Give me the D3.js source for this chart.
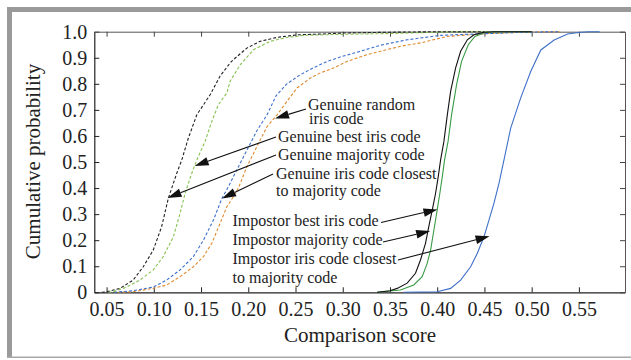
<!DOCTYPE html>
<html>
<head>
<meta charset="utf-8">
<script src="https://cdn.jsdelivr.net/npm/d3@7/dist/d3.min.js"></script>
<style>
  html, body { margin: 0; padding: 0; background: #fff; }
  svg { display: block; }
  svg text { font-family: "Liberation Serif", "DejaVu Serif", "Times New Roman", serif; }
</style>
</head>
<body>
<svg id="chart" width="631" height="360"></svg>
<script>
// Tick values
const scoreTicks = [0.05, 0.10, 0.15, 0.20, 0.25, 0.30, 0.35, 0.40, 0.45, 0.50, 0.55];
const probTicks = [0, 0.1, 0.2, 0.3, 0.4, 0.5, 0.6, 0.7, 0.8, 0.9, 1.0];

// Genuine comparisons: [comparison score, cumulative probability]
const genuineMajority = [
  [0.045, 0], [0.050, 0.002], [0.0641, 0.015], [0.0782, 0.047], [0.0888, 0.098], [0.0994, 0.162],
  [0.1083, 0.252], [0.1153, 0.36], [0.1243, 0.457], [0.1296, 0.508], [0.1366, 0.592],
  [0.1455, 0.681], [0.1596, 0.758], [0.1702, 0.83], [0.1808, 0.88], [0.1843, 0.893],
  [0.1985, 0.937], [0.2126, 0.963], [0.2303, 0.978], [0.2516, 0.988], [0.2763, 0.991],
  [0.3007, 0.995], [0.35, 0.998], [0.40, 1.0], [0.45, 1.0]
];
const genuineBest = [
  [0.052, 0], [0.0567, 0.002], [0.0712, 0.02], [0.0853, 0.047], [0.0994, 0.086], [0.110, 0.137],
  [0.1207, 0.213], [0.1278, 0.303], [0.1331, 0.38], [0.1402, 0.457], [0.1455, 0.508],
  [0.1543, 0.579], [0.1614, 0.656], [0.1684, 0.72], [0.1773, 0.765], [0.1808, 0.81],
  [0.1914, 0.873], [0.2055, 0.931], [0.2232, 0.963], [0.241, 0.978], [0.2585, 0.986],
  [0.30, 0.99], [0.35, 0.993], [0.40, 0.998], [0.42, 1.0], [0.47, 1.0]
];
const genuineClosest = [
  [0.058, 0], [0.0782, 0.006], [0.0994, 0.02], [0.1136, 0.047], [0.1278, 0.086], [0.1419, 0.137],
  [0.1525, 0.2], [0.1631, 0.277], [0.172, 0.36], [0.179, 0.405], [0.1843, 0.444],
  [0.1914, 0.495], [0.1978, 0.54], [0.2091, 0.62], [0.2197, 0.68], [0.2296, 0.755],
  [0.2409, 0.80], [0.2551, 0.835], [0.2692, 0.862], [0.2834, 0.886], [0.2975, 0.903],
  [0.3187, 0.925], [0.3399, 0.948], [0.3682, 0.969], [0.4036, 0.986], [0.446, 0.992],
  [0.4849, 0.997], [0.52, 1.0], [0.53, 1.0]
];
const genuineRandom = [
  [0.062, 0], [0.0782, 0.002], [0.0994, 0.015], [0.1136, 0.028], [0.1278, 0.06], [0.1419, 0.098],
  [0.1525, 0.137], [0.1614, 0.188], [0.1702, 0.265], [0.1773, 0.328], [0.1843, 0.367],
  [0.1896, 0.40], [0.1985, 0.482], [0.2091, 0.559], [0.2197, 0.635], [0.2303, 0.68],
  [0.241, 0.733], [0.2516, 0.784], [0.2657, 0.822], [0.2763, 0.842], [0.2904, 0.861],
  [0.3046, 0.886], [0.3222, 0.908], [0.3399, 0.925], [0.3611, 0.944], [0.3824, 0.957],
  [0.4107, 0.982], [0.4495, 0.992], [0.4884, 0.998], [0.52, 1.0], [0.53, 1.0]
];

// Impostor comparisons
const impostorMajority = [
  [0.3364, 0], [0.35, 0.006], [0.3576, 0.015], [0.3682, 0.035], [0.377, 0.073], [0.3823, 0.124],
  [0.3876, 0.188], [0.3911, 0.252], [0.3948, 0.316], [0.3983, 0.38], [0.4011, 0.444],
  [0.4036, 0.508], [0.4071, 0.579], [0.4107, 0.681], [0.4142, 0.771], [0.4195, 0.861],
  [0.4248, 0.925], [0.4319, 0.969], [0.4389, 0.988], [0.4495, 0.998], [0.46, 1.0], [0.50, 1.0]
];
const impostorBest = [
  [0.3364, 0], [0.3611, 0.009], [0.3752, 0.028], [0.3841, 0.06], [0.3894, 0.111], [0.393, 0.162],
  [0.3965, 0.239], [0.400, 0.316], [0.4028, 0.38], [0.4054, 0.444], [0.4078, 0.508],
  [0.4115, 0.579], [0.4152, 0.681], [0.4205, 0.797], [0.4258, 0.886], [0.4329, 0.95],
  [0.4399, 0.982], [0.4505, 0.997], [0.462, 1.0], [0.50, 1.0]
];
const impostorClosest = [
  [0.3646, 0], [0.400, 0.002], [0.4142, 0.015], [0.4248, 0.047], [0.4354, 0.098], [0.4425, 0.15],
  [0.4495, 0.213], [0.4548, 0.277], [0.4601, 0.342], [0.4654, 0.418], [0.4707, 0.508],
  [0.4778, 0.63], [0.4884, 0.746], [0.4991, 0.848], [0.5097, 0.93], [0.5238, 0.968],
  [0.538, 0.991], [0.5521, 0.998], [0.56, 1.0], [0.572, 1.0]
];

const series = [
  { data: genuineRandom,    color: "#e08a2e", dash: "3,2", width: 1.1 },
  { data: genuineClosest,   color: "#3d6fcc", dash: "3,2", width: 1.1 },
  { data: genuineBest,      color: "#86c250", dash: "3,2", width: 1.1 },
  { data: genuineMajority,  color: "#222222", dash: "3,2", width: 1.1 },
  { data: impostorClosest,  color: "#3f70c8", dash: null,  width: 1.1 },
  { data: impostorBest,     color: "#3a9a45", dash: null,  width: 1.1 },
  { data: impostorMajority, color: "#111111", dash: null,  width: 1.1 }
];

// Annotation text lines
const labelLines = [
  { text: "Genuine random", x: 308, y: 110 },
  { text: "iris code", x: 309, y: 123.5 },
  { text: "Genuine best iris code", x: 278, y: 141.5 },
  { text: "Genuine majority code", x: 278, y: 159.5 },
  { text: "Genuine iris code closest", x: 276, y: 178.5 },
  { text: "to majority code", x: 276, y: 196 },
  { text: "Impostor best iris code", x: 232.5, y: 226 },
  { text: "Impostor majority code", x: 232.5, y: 245 },
  { text: "Impostor iris code closest", x: 232.5, y: 264 },
  { text: "to majority code", x: 232.5, y: 283 }
];
// Arrows: tail in pixels at the label, head at [score, probability] on a curve
const arrows = [
  { from: [306, 109], to: [0.2283, 0.667] },
  { from: [276, 137], to: [0.1432, 0.485] },
  { from: [276, 155], to: [0.1145, 0.362] },
  { from: [273, 174], to: [0.1722, 0.36] },
  { from: [381, 222.5], to: [0.4003, 0.318] },
  { from: [383, 242], to: [0.3925, 0.235] },
  { from: [398, 260], to: [0.4554, 0.215] }
];

const FONT = "'Liberation Serif', 'DejaVu Serif', 'Times New Roman', serif";
const svg = d3.select("#chart");

// Outer frame
svg.append("rect").attr("x", 7).attr("y", 7).attr("width", 624).attr("height", 5).attr("fill", "#9a9a9a");
svg.append("rect").attr("x", 7).attr("y", 7).attr("width", 5).attr("height", 351).attr("fill", "#9a9a9a");
svg.append("rect").attr("x", 7).attr("y", 356.5).attr("width", 624).attr("height", 1.5).attr("fill", "#a8a8a8");

const x = d3.scaleLinear().domain([0.037, 0.5988]).range([94.3, 625]);
const y = d3.scaleLinear().domain([0, 1]).range([292.3, 31.7]);

const fontSize = 20;

// Axes with inward ticks
const gBottom = svg.append("g").attr("transform", `translate(0,${y(0)})`)
  .call(d3.axisBottom(x).tickValues(scoreTicks).tickSizeInner(-5).tickSizeOuter(0)
    .tickPadding(10).tickFormat(d => d.toFixed(2)));
const gLeft = svg.append("g").attr("transform", `translate(${x.range()[0]},0)`)
  .call(d3.axisLeft(y).tickValues(probTicks).tickSizeInner(-5).tickSizeOuter(0)
    .tickPadding(7).tickFormat(d => d === 0 ? "0" : d.toFixed(1)));
const gTop = svg.append("g").attr("transform", `translate(0,${y(1)})`)
  .call(d3.axisTop(x).tickValues(scoreTicks).tickSizeInner(-5).tickSizeOuter(0).tickFormat(""));
const gRight = svg.append("g").attr("transform", `translate(${x.range()[1]},0)`)
  .call(d3.axisRight(y).tickValues(probTicks).tickSizeInner(-5).tickSizeOuter(0).tickFormat(""));

[gBottom, gLeft, gTop, gRight].forEach(g => g.attr("font-family", FONT));
[gBottom, gLeft].forEach(g => {
  g.selectAll(".domain").attr("stroke", "#222").attr("stroke-width", 1.2);
  g.selectAll(".tick line").attr("stroke", "#222");
  g.selectAll(".tick text").attr("font-family", FONT)
    .attr("font-size", fontSize).attr("fill", "#222");
});
[gTop, gRight].forEach(g => {
  g.selectAll(".domain").attr("stroke", "#555").attr("stroke-width", 1);
  g.selectAll(".tick line").attr("stroke", "#444");
});

// Curves
const line = d3.line().x(d => x(d[0])).y(d => y(d[1]));
const plot = svg.append("g");
series.forEach(s => {
  plot.append("path").datum(s.data)
    .attr("d", line)
    .attr("fill", "none")
    .attr("stroke", s.color)
    .attr("stroke-width", s.width)
    .attr("stroke-dasharray", s.dash);
});

// Axis titles
svg.append("text")
  .attr("x", 360).attr("y", 341.5)
  .attr("text-anchor", "middle")
  .attr("font-family", FONT)
  .attr("font-size", 21).attr("fill", "#222")
  .text("Comparison score");
svg.append("text")
  .attr("transform", "translate(40,161.5) rotate(-90)")
  .attr("text-anchor", "middle")
  .attr("font-family", FONT)
  .attr("font-size", 21).attr("fill", "#222")
  .text("Cumulative probability");

// Annotations
const ann = svg.append("g");
labelLines.forEach(l => {
  ann.append("text").attr("x", l.x).attr("y", l.y)
    .attr("font-family", FONT)
    .attr("font-size", 16).attr("fill", "#222").text(l.text);
});

const headLen = 14, headHalf = 4.3;
arrows.forEach(a => {
  const [x0, y0] = a.from;
  const x1 = x(a.to[0]), y1 = y(a.to[1]);
  const dx = x1 - x0, dy = y1 - y0;
  const len = Math.hypot(dx, dy);
  const ux = dx / len, uy = dy / len;
  const bx = x1 - ux * headLen, by = y1 - uy * headLen;
  ann.append("line")
    .attr("x1", x0).attr("y1", y0).attr("x2", bx).attr("y2", by)
    .attr("stroke", "#111").attr("stroke-width", 1.1);
  const pts = [
    [x1, y1],
    [bx - uy * headHalf, by + ux * headHalf],
    [bx + uy * headHalf, by - ux * headHalf]
  ];
  ann.append("path")
    .attr("d", "M" + pts.map(p => p.join(",")).join("L") + "Z")
    .attr("fill", "#111");
});
</script>
</body>
</html>
